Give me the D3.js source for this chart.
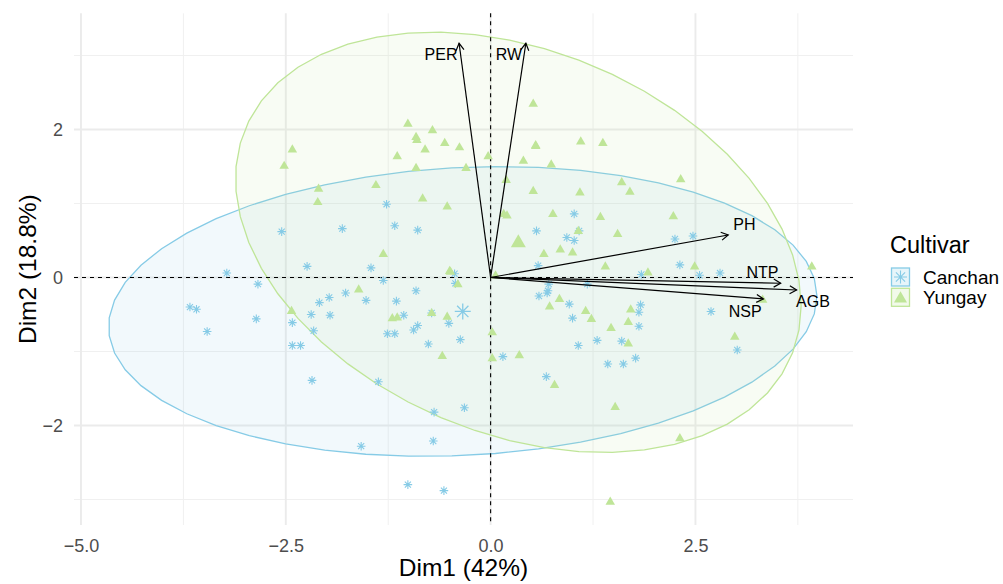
<!DOCTYPE html>
<html><head><meta charset="utf-8">
<script src="https://cdn.jsdelivr.net/npm/d3@7"></script>
<style>
body{margin:0;background:#fff;}
svg{display:block;font-family:"Liberation Sans",Arial,Helvetica,sans-serif;}
</style>
</head><body>
<svg id="chart" width="1003" height="584"></svg>
<script>
// ---------------- data ----------------
const categories = ["Canchan", "Yungay"];
const canchanPoints = [
  [-3.22,0.06],[-2.84,-0.09],[-3.67,-0.40],[-3.59,-0.43],[-2.86,-0.56],[-3.46,-0.73],
  [-2.55,0.62],[-2.24,0.15],[-2.42,-0.61],[-2.42,-0.92],[-2.32,-0.92],[-2.18,-1.39],
  [-2.09,-0.34],[-1.97,-0.27],[-2.19,-0.50],[-1.96,-0.51],[-2.16,-0.72],[-1.81,0.66],
  [-1.77,-0.21],[-1.52,-0.31],[-1.46,0.13],[-1.31,-0.04],[-1.27,0.99],[-1.17,0.70],
  [-0.89,0.64],[-1.15,-0.32],[-1.06,-0.51],[-0.91,-0.18],[-0.94,-0.71],[-0.89,-0.65],
  [-1.26,-0.76],[-1.17,-0.76],[-0.76,-0.90],[-0.72,-0.48],[-0.51,-0.62],[-0.44,0.05],
  [-0.43,-0.08],[-0.37,-0.84],[-1.37,-1.41],[-0.69,-1.82],[-0.32,-1.76],[-0.70,-2.21],
  [-1.58,-2.28],[-1.01,-2.80],[-0.57,-2.88],
  [1.02,0.86],[0.56,0.63],[0.93,0.54],[1.02,0.50],[1.08,0.63],[2.25,0.52],[2.47,0.56],
  [0.58,0.16],[2.31,0.17],[1.84,0.04],[2.55,0.03],[2.80,0.06],[0.71,-0.09],[1.18,-0.09],
  [0.59,-0.25],[0.69,-0.21],[0.96,-0.36],[1.00,-0.55],[1.83,-0.37],[1.81,-0.47],
  [1.81,-0.66],[1.30,-0.85],[1.07,-0.92],[1.60,-0.86],[1.43,-1.17],[1.62,-1.17],
  [1.77,-1.09],[0.15,-1.07],[0.68,-1.34],[2.69,-0.46],[3.01,-0.98],[0.70,-0.18]
];
const yungayPoints = [
  [-1.01,2.08],[-0.71,1.99],[-0.91,1.90],[-0.90,1.86],[-0.56,1.82],[-0.38,1.76],
  [-2.42,1.73],[-0.80,1.73],[-1.14,1.64],[-0.03,1.64],[-2.52,1.51],[-0.91,1.48],
  [-0.30,1.48],[-1.40,1.25],[-2.10,1.20],[-2.11,1.02],[-0.83,1.07],[-0.53,0.96],
  [-1.31,0.32],[-0.49,0.08],[0.52,2.35],[0.55,1.79],[1.10,1.84],[1.37,1.82],
  [0.40,1.58],[0.74,1.53],[0.19,1.32],[2.32,1.33],[1.60,1.29],[0.52,1.17],
  [1.09,1.15],[1.70,1.16],[0.16,0.86],[0.20,0.84],[0.76,0.86],[1.34,0.82],
  [2.23,0.83],[1.55,0.59],[1.07,0.63],[0.65,0.32],[0.85,0.38],[1.00,0.34],
  [1.40,0.15],[2.49,0.15],[1.92,0.07],[3.92,0.15],[0.06,0.03],[0.84,-0.29],
  [0.72,-0.39],[1.16,-0.45],[1.23,-0.56],[1.71,-0.43],[1.68,-0.60],[1.47,-0.68],
  [1.68,-0.89],[0.02,-0.74],[0.02,-1.09],[0.35,-1.05],[0.78,-1.45],[1.52,-1.75],
  [2.98,-0.80],[3.32,-0.30],[2.31,-2.17],[1.46,-3.03],[-0.40,-0.09],[-1.61,-0.16],
  [-1.20,-0.55],[-1.14,-0.54],[-0.72,-0.48],[-0.53,-0.53],[-0.59,-1.06],[-2.43,-0.45],
  [0.55,1.78],[-0.50,0.09]
];
const variables = ["PER", "RW", "PH", "NTP", "AGB", "NSP"];
const variableX = [-0.385, 0.43, 2.90, 3.54, 3.735, 3.33];
const variableY = [3.165, 3.165, 0.574, -0.078, -0.169, -0.29];
const xTicks = [-5, -2.5, 0, 2.5];
const xTickLabels = ["\u22125.0", "\u22122.5", "0.0", "2.5"];
const yTicks = [-2, 0, 2];
const yTickLabels = ["\u22122", "0", "2"];
const xMinor = [-3.75, -1.25, 1.25, 3.75];
const yMinor = [-3, -1, 1, 3];
const xTitle = "Dim1 (42%)";
const yTitle = "Dim2 (18.8%)";
const legendTitle = "Cultivar";

// ---------------- layout / style ----------------
const W = 1003, H = 584;
const panel = {left: 74, right: 853, top: 13.3, bottom: 525};
const colors = {Canchan: "#86CBE6", Yungay: "#BFE598"};
const labelNudge = [[-18,11.4],[-17,11.4],[16.2,-11],[-18.2,-11.3],[16.3,11.3],[-18.3,12]];

const svg = d3.select("#chart");
svg.append("rect").attr("width", W).attr("height", H).attr("fill", "#fff");

const x = d3.scaleLinear().domain([-5.085, 4.423]).range([panel.left, panel.right]);
const y = d3.scaleLinear().domain([-3.345, 3.570]).range([panel.bottom, panel.top]);

// grid
const grid = svg.append("g");
grid.selectAll(".vmin").data(xMinor).join("line")
  .attr("x1", d => x(d)).attr("x2", d => x(d)).attr("y1", panel.top).attr("y2", panel.bottom)
  .attr("stroke", "#F0F0F0").attr("stroke-width", 1);
grid.selectAll(".hmin").data(yMinor).join("line")
  .attr("y1", d => y(d)).attr("y2", d => y(d)).attr("x1", panel.left).attr("x2", panel.right)
  .attr("stroke", "#F0F0F0").attr("stroke-width", 1);
grid.selectAll(".vmaj").data(xTicks).join("line")
  .attr("x1", d => x(d)).attr("x2", d => x(d)).attr("y1", panel.top).attr("y2", panel.bottom)
  .attr("stroke", "#EBEBEB").attr("stroke-width", 1.9);
grid.selectAll(".hmaj").data(yTicks).join("line")
  .attr("y1", d => y(d)).attr("y2", d => y(d)).attr("x1", panel.left).attr("x2", panel.right)
  .attr("stroke", "#EBEBEB").attr("stroke-width", 1.9);

// ellipses (multivariate normal, level 0.95, like stat_ellipse type="norm")
function ellipse(pts) {
  const n = pts.length;
  const mx = d3.mean(pts, p => p[0]), my = d3.mean(pts, p => p[1]);
  let sxx = 0, syy = 0, sxy = 0;
  pts.forEach(p => { sxx += (p[0]-mx)**2; syy += (p[1]-my)**2; sxy += (p[0]-mx)*(p[1]-my); });
  sxx /= (n-1); syy /= (n-1); sxy /= (n-1);
  const dfd = n - 1;
  const fq = (dfd/2) * (Math.pow(0.05, -2/dfd) - 1);
  const r = Math.sqrt(2 * fq);
  const R11 = Math.sqrt(sxx), R12 = sxy / R11, R22 = Math.sqrt(syy - R12*R12);
  const out = [];
  const seg = 51;
  for (let i = 0; i <= seg; i++) {
    const t = i / seg * 2 * Math.PI;
    const c = Math.cos(t), s = Math.sin(t);
    out.push([mx + r * c * R11, my + r * (c * R12 + s * R22)]);
  }
  return {pts: out, mx, my};
}
const groups = [
  {name: "Canchan", pts: canchanPoints},
  {name: "Yungay", pts: yungayPoints}
];
groups.forEach(g => g.ell = ellipse(g.pts));

const line = d3.line().x(d => x(d[0])).y(d => y(d[1]));
svg.append("g").selectAll("path").data(groups).join("path")
  .attr("d", g => line(g.ell.pts) + "Z")
  .attr("fill", g => colors[g.name]).attr("fill-opacity", 0.11)
  .attr("stroke", g => colors[g.name]).attr("stroke-width", 1.3);

// zero lines
svg.append("line").attr("x1", x(0)).attr("x2", x(0)).attr("y1", panel.top).attr("y2", panel.bottom)
  .attr("stroke", "#000").attr("stroke-width", 1.1).attr("stroke-dasharray", "4,4");
svg.append("line").attr("y1", y(0)).attr("y2", y(0)).attr("x1", panel.left).attr("x2", panel.right)
  .attr("stroke", "#000").attr("stroke-width", 1.1).attr("stroke-dasharray", "4,4");

// symbols
function starPath(r) {
  const k = r * 0.707;
  return `M${-r},0L${r},0M0,${-r}L0,${r}M${-k},${-k}L${k},${k}M${-k},${k}L${k},${-k}`;
}
function triangle(size) {
  const h = size * 0.866;
  return `M0,${-h*0.62}L${size/2},${h*0.38}L${-size/2},${h*0.38}Z`;
}

const ptsG = svg.append("g");
ptsG.selectAll(".c").data(canchanPoints).join("path")
  .attr("transform", d => `translate(${x(d[0])},${y(d[1])})`)
  .attr("d", starPath(4.3))
  .attr("stroke", colors.Canchan).attr("stroke-width", 1.1).attr("fill", "none");
ptsG.selectAll(".y").data(yungayPoints).join("path")
  .attr("transform", d => `translate(${x(d[0])},${y(d[1])})`)
  .attr("d", triangle(9.5))
  .attr("fill", colors.Yungay);

// group means
const cm = groups[0].ell, ym = groups[1].ell;
svg.append("path").attr("transform", `translate(${x(cm.mx)},${y(cm.my)})`)
  .attr("d", starPath(8))
  .attr("stroke", colors.Canchan).attr("stroke-width", 1.3).attr("fill", "none");
svg.append("path").attr("transform", `translate(${x(ym.mx)},${y(ym.my)})`)
  .attr("d", triangle(15)).attr("fill", colors.Yungay);

// arrows
const arrowG = svg.append("g");
variables.forEach((v, i) => {
  const x1 = x(0), y1 = y(0), x2 = x(variableX[i]), y2 = y(variableY[i]);
  arrowG.append("line").attr("x1", x1).attr("y1", y1).attr("x2", x2).attr("y2", y2)
    .attr("stroke", "#000").attr("stroke-width", 1.2);
  const ang = Math.atan2(y2 - y1, x2 - x1), L = 8, a = Math.PI / 6;
  const p1 = [x2 - L*Math.cos(ang - a), y2 - L*Math.sin(ang - a)];
  const p2 = [x2 - L*Math.cos(ang + a), y2 - L*Math.sin(ang + a)];
  arrowG.append("path").attr("d", `M${p1[0]},${p1[1]}L${x2},${y2}L${p2[0]},${p2[1]}`)
    .attr("fill", "none").attr("stroke", "#000").attr("stroke-width", 1.2);
  arrowG.append("text").attr("x", x2 + labelNudge[i][0]).attr("y", y2 + labelNudge[i][1])
    .attr("dy", "0.36em").attr("text-anchor", "middle")
    .attr("font-size", 16).attr("fill", "#000").text(v);
});

// axes
const xAxis = svg.append("g").attr("transform", `translate(0,${panel.bottom})`)
  .call(d3.axisBottom(x).tickValues(xTicks).tickFormat((d, i) => xTickLabels[i]).tickSize(0));
xAxis.select(".domain").remove();
xAxis.selectAll("text").attr("y", 26.5).attr("dy", 0).attr("font-size", 18)
  .attr("fill", "#4D4D4D").attr("font-family", "Liberation Sans, Arial, sans-serif");
const yAxis = svg.append("g").attr("transform", `translate(${panel.left},0)`)
  .call(d3.axisLeft(y).tickValues(yTicks).tickFormat((d, i) => yTickLabels[i]).tickSize(0).tickPadding(11));
yAxis.select(".domain").remove();
yAxis.selectAll("text").attr("font-size", 18).attr("fill", "#4D4D4D")
  .attr("font-family", "Liberation Sans, Arial, sans-serif");

svg.append("text").attr("x", (panel.left + panel.right) / 2).attr("y", 576)
  .attr("text-anchor", "middle").attr("font-size", 24.5).attr("fill", "#000").text(xTitle);
svg.append("text").attr("transform", `translate(36,${(panel.top + panel.bottom) / 2}) rotate(-90)`)
  .attr("text-anchor", "middle").attr("font-size", 24.5).attr("fill", "#000").text(yTitle);

// legend
const lg = svg.append("g");
lg.append("text").attr("x", 890).attr("y", 253).attr("font-size", 23.5).attr("fill", "#000").text(legendTitle);
categories.forEach((c, i) => {
  const by = 267.5 + i * 20.3;
  const g = lg.append("g").attr("transform", `translate(891,${by})`);
  g.append("rect").attr("x", 0.5).attr("y", 0.5).attr("width", 18).attr("height", 18)
    .attr("fill", colors[c]).attr("fill-opacity", 0.2).attr("stroke", colors[c]).attr("stroke-width", 1.3);
  if (c === "Canchan") {
    g.append("path").attr("transform", "translate(9.5,9.5)")
      .attr("d", starPath(6.5))
      .attr("stroke", colors[c]).attr("stroke-width", 1.1).attr("fill", "none");
  } else {
    g.append("path").attr("transform", "translate(9.5,10.5)").attr("d", triangle(13)).attr("fill", colors[c]);
  }
  lg.append("text").attr("x", 923).attr("y", by + 9.5).attr("dy", "0.36em")
    .attr("font-size", 19).attr("fill", "#000").text(c);
});
</script>
</body></html>
